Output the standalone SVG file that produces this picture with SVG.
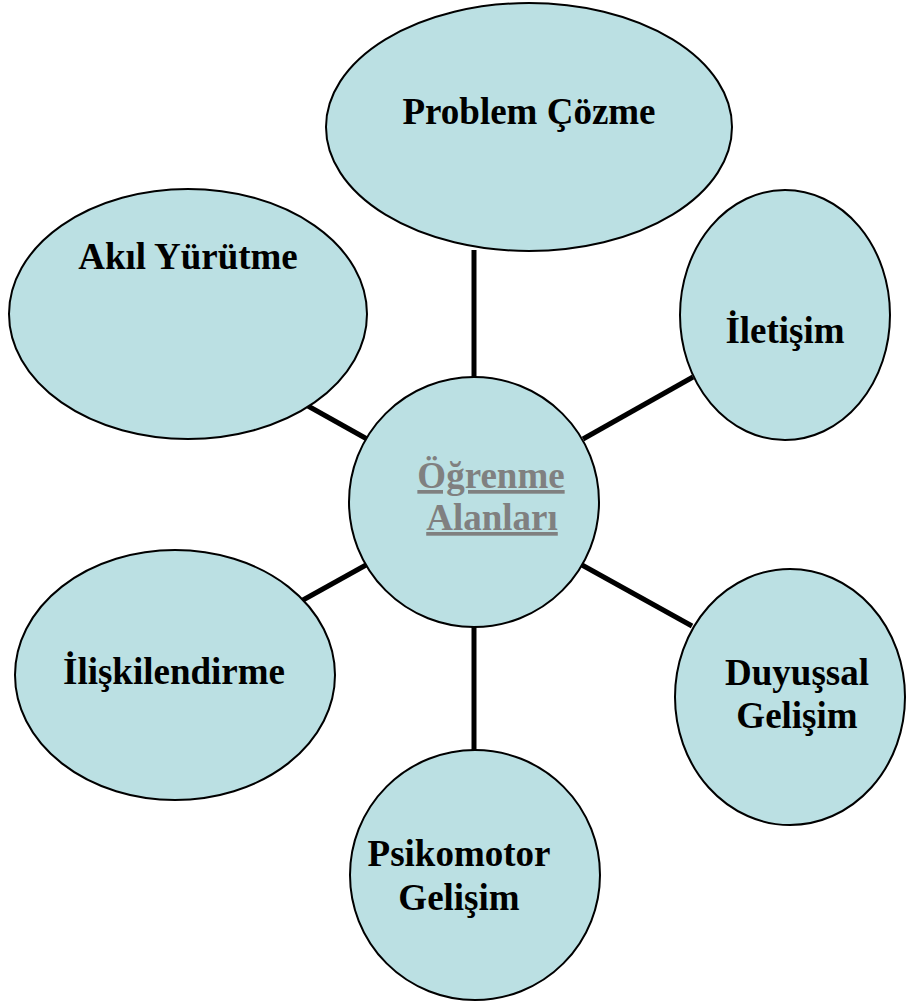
<svg xmlns="http://www.w3.org/2000/svg" width="915" height="1003" viewBox="0 0 915 1003">
<style>
.n{fill:#BBE0E3;stroke:#000;stroke-width:2}
.t{font-family:"Liberation Serif","Times New Roman",serif;font-weight:bold;font-size:37px;fill:#000;text-anchor:middle}
.c{fill:#808080;text-decoration:underline}
.l{stroke:#000;stroke-width:5;fill:none}
</style>
<rect width="915" height="1003" fill="#fff"/>
<g id="connectors">
<line class="l" x1="474" y1="250" x2="474" y2="378"/>
<line class="l" x1="474" y1="626" x2="474" y2="752"/>
<line class="l" x1="308" y1="406" x2="367" y2="439"/>
<line class="l" x1="693" y1="377" x2="583" y2="439"/>
<line class="l" x1="366" y1="565" x2="294" y2="605"/>
<line class="l" x1="582" y1="565" x2="692" y2="626"/>
</g>
<g id="problem-cozme">
<ellipse class="n" cx="529" cy="127" rx="203" ry="124"/>
<text class="t" x="529" y="124">Problem Çözme</text>
</g>
<g id="akil-yurutme">
<ellipse class="n" cx="188" cy="314" rx="179" ry="125"/>
<text class="t" x="188" y="269">Akıl Yürütme</text>
</g>
<g id="iletisim">
<ellipse class="n" cx="785" cy="315" rx="105" ry="125"/>
<text class="t" x="785" y="343">İletişim</text>
</g>
<g id="iliskilendirme">
<ellipse class="n" cx="175" cy="675" rx="160" ry="125"/>
<text class="t" x="174" y="684">İlişkilendirme</text>
</g>
<g id="duyussal-gelisim">
<ellipse class="n" cx="790" cy="697" rx="115" ry="128"/>
<text class="t" x="797" y="685">Duyuşsal</text>
<text class="t" x="797" y="728">Gelişim</text>
</g>
<g id="psikomotor-gelisim">
<ellipse class="n" cx="475" cy="875" rx="125" ry="125"/>
<text class="t" x="459" y="866">Psikomotor</text>
<text class="t" x="459" y="910">Gelişim</text>
</g>
<g id="ogrenme-alanlari">
<circle class="n" cx="474" cy="502" r="125"/>
<text class="t c" x="491" y="488">Öğrenme</text>
<text class="t c" x="492" y="530">Alanları</text>
</g>
</svg>
